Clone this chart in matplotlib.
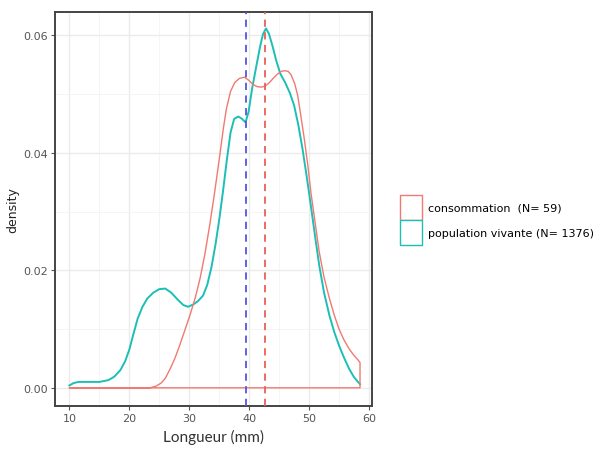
import numpy as np
import matplotlib
matplotlib.use("Agg")
import matplotlib.pyplot as plt
from matplotlib.patches import Patch
from matplotlib.ticker import MultipleLocator

# courbes de densité
x_vivante = [10, 10.7, 11.5, 13, 15, 16.5, 17.5, 18.5, 19.3, 20, 20.7, 21.4, 22.2,
             23, 24, 25, 26, 27, 28, 29, 29.8, 30.7, 31.5, 32.3, 33, 33.7, 34.4,
             35.1, 35.7, 36.3, 36.9, 37.5, 38.2, 38.8, 39.4, 39.9, 40.5, 41.2,
             41.8, 42.3, 42.8, 43.3, 43.9, 44.5, 45.2, 46, 46.8, 47.5, 48.2, 48.9,
             49.6, 50.3, 51, 51.7, 52.5, 53.4, 54.2, 55, 55.8, 56.7, 57.5, 58.5]
y_vivante = [0.0004, 0.0008, 0.001, 0.001, 0.001, 0.0013, 0.0019, 0.003, 0.0045,
             0.0065, 0.0092, 0.0118, 0.0138, 0.0152, 0.0162, 0.0168, 0.0169,
             0.0162, 0.0151, 0.0141, 0.0138, 0.0142, 0.0148, 0.0157, 0.0175,
             0.0205, 0.0245, 0.0293, 0.034, 0.039, 0.0435, 0.0458, 0.0462, 0.0458,
             0.0452, 0.047, 0.051, 0.0548, 0.058, 0.0602, 0.0612, 0.0603, 0.0582,
             0.0558, 0.0535, 0.052, 0.0502, 0.0481, 0.0448, 0.0407, 0.036, 0.031,
             0.0258, 0.0208, 0.0162, 0.0123, 0.0095, 0.0072, 0.0052, 0.0032,
             0.0018, 0.0006]

x_conso = [10, 23.5, 24.5, 25.3, 26, 26.8, 27.6, 28.4, 29.2, 30.1, 31, 31.8, 32.6,
           33.4, 34.2, 35.1, 35.7, 36.2, 36.9, 37.6, 38.4, 39.2, 39.9, 40.6, 41.3,
           42, 42.7, 43.4, 44.1, 44.8, 45.4, 45.9, 46.5, 47, 47.6, 48.1, 48.6,
           49.2, 49.8, 50.3, 51, 51.7, 52.5, 53.4, 54.2, 55, 55.8, 56.7, 57.5,
           58.2, 58.5]
y_conso = [0, 0, 0.0003, 0.0008, 0.0016, 0.0032, 0.005, 0.0072, 0.0096, 0.0123,
           0.0153, 0.0186, 0.0227, 0.0276, 0.033, 0.0396, 0.0442, 0.0475, 0.0505,
           0.052, 0.0527, 0.0529, 0.0524, 0.0517, 0.0513, 0.0512, 0.0514, 0.052,
           0.0528, 0.0535, 0.0539, 0.054, 0.0539, 0.0533, 0.0518, 0.0498, 0.0465,
           0.0424, 0.0378, 0.0333, 0.0282, 0.0231, 0.0188, 0.0152, 0.0124, 0.01,
           0.0082, 0.0066, 0.0055, 0.0047, 0.0043]

moy_vivante = 39.5
moy_conso = 42.7

labels = ["consommation  (N= 59)", "population vivante (N= 1376)"]
col_conso = "#F07A72"
col_vivante = "#1CBFB4"

fig = plt.figure(figsize=(6.0, 4.56), dpi=100)
ax = fig.add_axes([55 / 600, 1 - 407 / 456, 317 / 600, 394 / 456])

# courbe vivante (sans base), puis polygone fermé consommation comme geom_density
ax.plot(x_vivante, y_vivante, color=col_vivante, linewidth=1.4, zorder=3,
        solid_joinstyle="round")
ax.fill(x_conso + [x_conso[-1]], y_conso + [0],
        facecolor="none", edgecolor=col_conso, linewidth=1.0, zorder=4,
        joinstyle="round")

ax.axvline(moy_vivante, color="#5555E0", linestyle=(0, (4, 3)), linewidth=1.3, zorder=5)
ax.axvline(moy_conso, color="#E8605A", linestyle=(0, (4, 3)), linewidth=1.3, zorder=5)

ax.set_xlim(7.6, 60.5)
ax.set_ylim(-0.0031, 0.064)
ax.xaxis.set_major_locator(MultipleLocator(10))
ax.xaxis.set_minor_locator(MultipleLocator(5))
ax.yaxis.set_minor_locator(MultipleLocator(0.01))
ax.set_yticks([0, 0.02, 0.04, 0.06])
ax.set_yticklabels(["0.00", "0.02", "0.04", "0.06"])
ax.grid(which="major", color="#ebebeb", linewidth=1.0, zorder=0)
ax.grid(which="minor", color="#f4f4f4", linewidth=0.6, zorder=0)
ax.set_axisbelow(True)
ax.tick_params(which="minor", length=0)
ax.tick_params(which="major", length=3, color="#555555", labelsize=8,
               labelcolor="#555555", width=0.8, pad=2)
for s in ax.spines.values():
    s.set_color("#444444")
    s.set_linewidth(1.4)

ax.set_ylabel("density", fontsize=9, color="#222222", labelpad=3)
ax.set_xlabel("Longueur (mm)", fontsize=11, family="Lato", color="#333333", labelpad=4)

handles = [Patch(facecolor="white", edgecolor=col_conso, linewidth=1.0),
           Patch(facecolor="white", edgecolor=col_vivante, linewidth=1.0)]
fig.legend(handles, labels, loc="upper left", bbox_to_anchor=(392 / 600, 1 - 188 / 456),
           frameon=False, fontsize=8, handlelength=2.0, handleheight=3.1,
           labelspacing=0.0, handletextpad=0.5, borderpad=0.2)

fig.savefig("out.png", dpi=100)
